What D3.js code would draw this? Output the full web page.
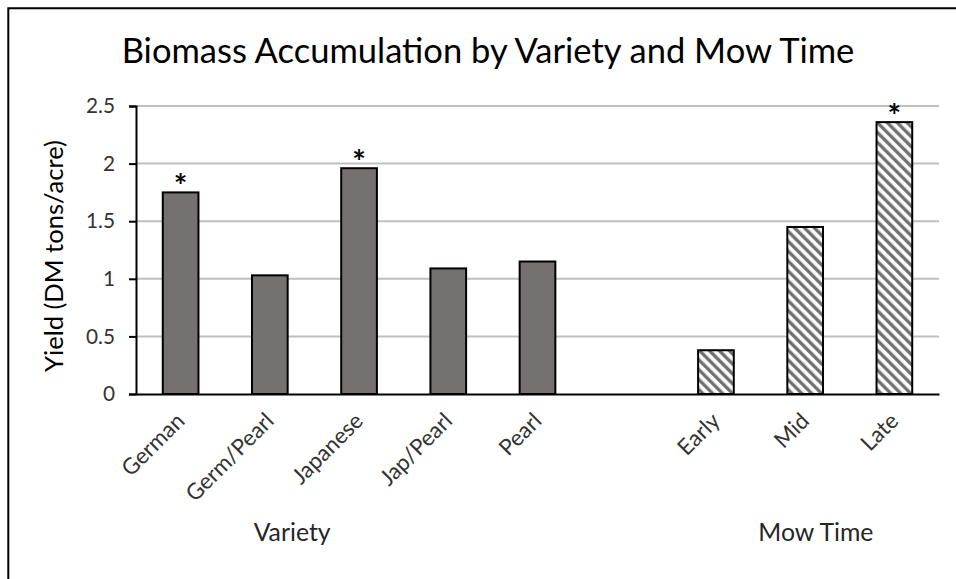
<!DOCTYPE html>
<html>
<head>
<meta charset="utf-8">
<script src="https://cdn.jsdelivr.net/npm/d3@7"></script>
<style>
  body { margin: 0; background: #fff; }
  text { font-family: Lato, "Open Sans", sans-serif; }
</style>
</head>
<body>
<div id="chart"></div>
<script>
// Data
var varieties = ["German", "Germ/Pearl", "Japanese", "Jap/Pearl", "Pearl"];
var varietyYield = [1.75, 1.03, 1.96, 1.09, 1.15];
var varietySig = [true, false, true, false, false];

var mowTimes = ["Early", "Mid", "Late"];
var mowYield = [0.38, 1.45, 2.36];
var mowSig = [false, false, true];

var yTicks = [0, 0.5, 1, 1.5, 2, 2.5];
var groupTitles = ["Variety", "Mow Time"];
var chartTitle = "Biomass Accumulation by Variety and Mow Time";
var yTitle = "Yield (DM tons/acre)";

var width = 956, height = 579;
var margin = { top: 106, right: 17, bottom: 185, left: 136 };

var svg = d3.select("#chart").append("svg")
  .attr("width", width)
  .attr("height", height);

// outer frame (only top and left edges show in the picture)
svg.append("path")
  .attr("d", "M8.3," + height + "V8.3H" + width)
  .attr("fill", "none")
  .attr("stroke", "#000")
  .attr("stroke-width", 2);

// hatch for the mow time bars
var defs = svg.append("defs");
var pat = defs.append("pattern")
  .attr("id", "hatch")
  .attr("patternUnits", "userSpaceOnUse")
  .attr("width", 7)
  .attr("height", 7)
  .attr("patternTransform", "rotate(-45)");
pat.append("rect").attr("width", 7).attr("height", 7).attr("fill", "#fff");
pat.append("line")
  .attr("x1", 1.75).attr("y1", 0).attr("x2", 1.75).attr("y2", 7)
  .attr("stroke", "#6e6e6e")
  .attr("stroke-width", 3.3);

// one spacer slot between the two groups
var rows = [];
varieties.forEach(function (v, i) {
  rows.push({ name: v, value: varietyYield[i], sig: varietySig[i], group: "variety" });
});
rows.push({ name: "__gap", value: null, sig: false, group: "gap" });
mowTimes.forEach(function (m, i) {
  rows.push({ name: m, value: mowYield[i], sig: mowSig[i], group: "mow" });
});

var x = d3.scaleBand()
  .domain(rows.map(function (d) { return d.name; }))
  .range([margin.left, width - margin.right])
  .paddingInner(0.6)
  .paddingOuter(0.3);

var y = d3.scaleLinear()
  .domain([0, 2.5])
  .range([height - margin.bottom, margin.top]);

function fit(sel, target) {
  var w = sel.node().getComputedTextLength();
  var fs = parseFloat(sel.attr("font-size"));
  sel.attr("font-size", fs * target / w);
  return fs * target / w;
}

// gridlines
svg.append("g")
  .selectAll("line")
  .data(yTicks.filter(function (t) { return t > 0; }))
  .enter().append("line")
  .attr("x1", margin.left)
  .attr("x2", width - margin.right)
  .attr("y1", function (d) { return y(d); })
  .attr("y2", function (d) { return y(d); })
  .attr("stroke", "#bfbfbf")
  .attr("stroke-width", 2);

// y axis
var tickProbe = svg.append("text").attr("font-size", 20).text("2.5");
var tickSize = fit(tickProbe, 29);
tickProbe.remove();

var yAxis = svg.append("g")
  .attr("transform", "translate(" + margin.left + ",0)")
  .call(d3.axisLeft(y).tickValues(yTicks).tickSize(7).tickPadding(14)
    .tickFormat(function (d) { return String(d); }));
yAxis.select(".domain").attr("stroke", "#000").attr("stroke-width", 2);
yAxis.selectAll(".tick line").attr("stroke", "#000").attr("stroke-width", 2);
yAxis.selectAll(".tick text")
  .attr("font-size", tickSize)
  .attr("font-family", "Lato")
  .attr("fill", "#333");

// bars
svg.append("g")
  .selectAll("rect")
  .data(rows.filter(function (d) { return d.value !== null; }))
  .enter().append("rect")
  .attr("x", function (d) { return x(d.name); })
  .attr("width", x.bandwidth())
  .attr("y", function (d) { return y(d.value); })
  .attr("height", function (d) { return y(0) - y(d.value); })
  .attr("fill", function (d) { return d.group === "mow" ? "url(#hatch)" : "#767171"; })
  .attr("stroke", "#000")
  .attr("stroke-width", 2);

// significance marks
svg.append("g")
  .selectAll("text")
  .data(rows.filter(function (d) { return d.sig; }))
  .enter().append("text")
  .attr("x", function (d) { return x(d.name) + x.bandwidth() / 2; })
  .attr("y", function (d) { return y(d.value) + 6; })
  .attr("text-anchor", "middle")
  .attr("font-size", 32)
  .attr("font-weight", "bold")
  .attr("fill", "#000")
  .text("*");

// x axis
var xAxis = svg.append("g")
  .attr("transform", "translate(0," + y(0) + ")")
  .call(d3.axisBottom(x).tickSize(0).tickFormat(function (d) { return d === "__gap" ? "" : d; }));
xAxis.select(".domain").attr("stroke", "#000").attr("stroke-width", 2);

var labProbe = svg.append("text").attr("font-size", 20).text("German");
var labSize = fit(labProbe, 78);
labProbe.remove();

xAxis.selectAll(".tick text")
  .attr("font-size", labSize)
  .attr("font-family", "Lato")
  .attr("fill", "#333")
  .attr("text-anchor", "end")
  .attr("x", 0)
  .attr("y", 0)
  .attr("dy", "0.72em")
  .attr("transform", "translate(-6,17) rotate(-45)");

// group titles
var step = x.step();
var groupX = [
  x("Germ/Pearl") + x.bandwidth() / 2 + step * 0.25,
  x("Mid") + x.bandwidth() / 2 + step * 0.12
];
var gt = svg.append("g")
  .selectAll("text")
  .data(groupTitles)
  .enter().append("text")
  .attr("x", function (d, i) { return groupX[i]; })
  .attr("y", 541)
  .attr("text-anchor", "middle")
  .attr("font-size", 24)
  .attr("fill", "#262626")
  .text(function (d) { return d; });
fit(d3.select(gt.nodes()[0]), 77);
d3.select(gt.nodes()[1]).attr("font-size", d3.select(gt.nodes()[0]).attr("font-size"));

// y title
var yt = svg.append("text")
  .attr("transform", "translate(63," + ((y(0) + y(2.5)) / 2 + 6) + ") rotate(-90)")
  .attr("text-anchor", "middle")
  .attr("font-size", 26)
  .attr("fill", "#000")
  .text(yTitle);
fit(yt, 232);

// chart title
var tt = svg.append("text")
  .attr("x", 488)
  .attr("y", 63)
  .attr("text-anchor", "middle")
  .attr("font-size", 34)
  .attr("fill", "#000")
  .text(chartTitle);
fit(tt, 733);
</script>
</body>
</html>
